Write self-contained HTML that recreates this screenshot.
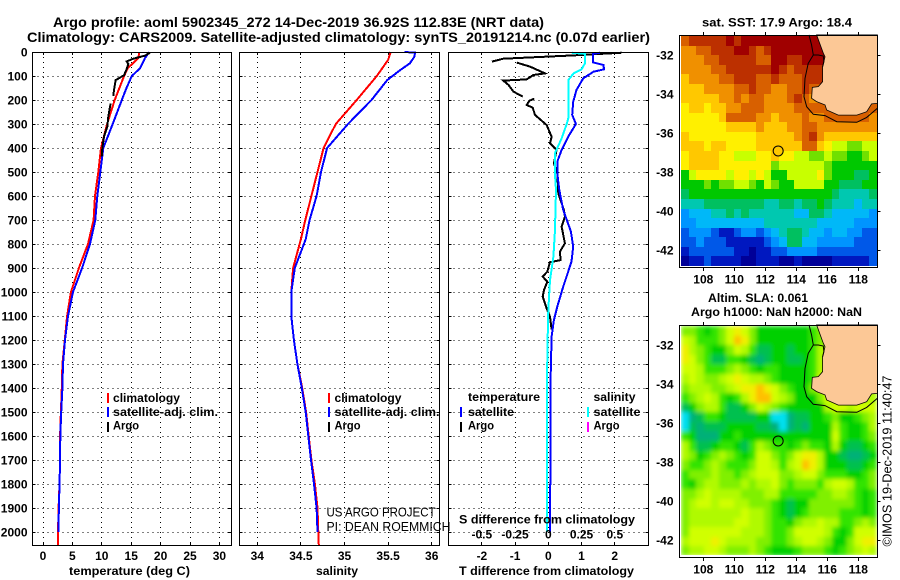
<!DOCTYPE html>
<html lang="en">
<head>
<meta charset="utf-8">
<title>Argo profile chart</title>
<style>
html,body{margin:0;padding:0;background:#fff;width:900px;height:580px;overflow:hidden}
svg{display:block}
text{font-family:"Liberation Sans",sans-serif;fill:#000}
.b{font-weight:700;font-size:12px}
.t{font-weight:700;font-size:14px}
.r{font-weight:400;font-size:13px}
</style>
</head>
<body>
<svg id="chart" xmlns="http://www.w3.org/2000/svg" width="900" height="580" viewBox="0 0 900 580">
  <defs>
    <filter id="smooth" filterUnits="userSpaceOnUse" x="681" y="326" width="196" height="229">
      <feGaussianBlur stdDeviation="2.2" edgeMode="duplicate"/>
    </filter>
  </defs>
  <rect width="900" height="580" fill="#fff"/>
  <text class="t" x="53" y="27" textLength="491" lengthAdjust="spacingAndGlyphs">Argo profile: aoml 5902345_272 14-Dec-2019 36.92S 112.83E (NRT data)</text>
  <text class="t" x="27" y="42" textLength="623" lengthAdjust="spacingAndGlyphs">Climatology: CARS2009. Satellite-adjusted climatology: synTS_20191214.nc (0.07d earlier)</text>

  <g id="maps"></g>
  <g id="panels"></g>

  <text class="b" x="69" y="575" textLength="121" lengthAdjust="spacingAndGlyphs">temperature (deg C)</text>
  <text class="b" x="316" y="575" textLength="42" lengthAdjust="spacingAndGlyphs">salinity</text>
  <text class="b" x="459" y="575" textLength="175" lengthAdjust="spacingAndGlyphs">T difference from climatology</text>
  <text class="b" x="459" y="523.5" textLength="176" lengthAdjust="spacingAndGlyphs">S difference from climatology</text>

  <g>
    <rect x="107" y="393" width="2" height="10" fill="#f00"/>
    <text class="b" x="113" y="402" textLength="67" lengthAdjust="spacingAndGlyphs">climatology</text>
    <rect x="107" y="407" width="2" height="10" fill="#00f"/>
    <text class="b" x="113" y="416" textLength="105" lengthAdjust="spacingAndGlyphs">satellite-adj. clim.</text>
    <rect x="107" y="422" width="2" height="10" fill="#000"/>
    <text class="b" x="113" y="429.5" textLength="26" lengthAdjust="spacingAndGlyphs">Argo</text>
  </g>
  <g>
    <rect x="328" y="393" width="2" height="10" fill="#f00"/>
    <text class="b" x="334.5" y="402" textLength="67" lengthAdjust="spacingAndGlyphs">climatology</text>
    <rect x="328" y="407" width="2" height="10" fill="#00f"/>
    <text class="b" x="334.5" y="416" textLength="105" lengthAdjust="spacingAndGlyphs">satellite-adj. clim.</text>
    <rect x="328" y="422" width="2" height="10" fill="#000"/>
    <text class="b" x="334.5" y="429.5" textLength="26" lengthAdjust="spacingAndGlyphs">Argo</text>
  </g>
  <g>
    <text class="b" x="468" y="401" textLength="72" lengthAdjust="spacingAndGlyphs">temperature</text>
    <rect x="460" y="407" width="2" height="10" fill="#00f"/>
    <text class="b" x="468" y="416" textLength="46" lengthAdjust="spacingAndGlyphs">satellite</text>
    <rect x="460" y="422" width="2" height="10" fill="#000"/>
    <text class="b" x="468" y="429.5" textLength="26" lengthAdjust="spacingAndGlyphs">Argo</text>
    <text class="b" x="593.5" y="401" textLength="42" lengthAdjust="spacingAndGlyphs">salinity</text>
    <rect x="587" y="407" width="2" height="10" fill="#0ff"/>
    <text class="b" x="593.5" y="416" textLength="47" lengthAdjust="spacingAndGlyphs">satellite</text>
    <rect x="587" y="422" width="2" height="10" fill="#f0f"/>
    <text class="b" x="593.5" y="429.5" textLength="26" lengthAdjust="spacingAndGlyphs">Argo</text>
  </g>

  <text class="r" x="326.5" y="516.5" textLength="109" lengthAdjust="spacingAndGlyphs">US ARGO PROJECT</text>
  <text class="r" x="326.5" y="531" textLength="124" lengthAdjust="spacingAndGlyphs">PI: DEAN ROEMMICH</text>

  <text class="b" x="702" y="26.5" textLength="150" lengthAdjust="spacingAndGlyphs">sat. SST: 17.9 Argo: 18.4</text>
  <text class="b" x="708" y="302" textLength="100" lengthAdjust="spacingAndGlyphs">Altim. SLA: 0.061</text>
  <text class="b" x="691" y="316" textLength="171" lengthAdjust="spacingAndGlyphs">Argo h1000: NaN h2000: NaN</text>
  <text class="r" transform="translate(891.5 546.5) rotate(-90)" textLength="171" lengthAdjust="spacingAndGlyphs">©IMOS 19-Dec-2019 11:40:47</text>
</svg>

<script>
// ---------- axis tick labels ----------
const depthTicks = [0,100,200,300,400,500,600,700,800,900,1000,1100,1200,1300,1400,1500,1600,1700,1800,1900,2000];
const tempTicks = [0,5,10,15,20,25,30];
const salinityTicks = [34,34.5,35,35.5,36];
const tDiffTicks = [-2,-1,0,1,2];
const sDiffTickValues = [-0.5,-0.25,0,0.25,0.5];
const sDiffTickLabels = ["-0.5","-0.25","0","0.25","0.5"];
const lonTicks = [108,110,112,114,116,118];
const latTicks = [-32,-34,-36,-38,-40,-42];

// ---------- temperature profiles (deg C vs depth in dbar) ----------
const climTempDepth = [0,25,68,100,200,300,400,500,600,700,800,900,1000,1100,1200,1300,1400,1500,1600,1700,1800,1900,2000,2054];
const climTempValue = [16.4,16.2,14.4,13.8,12.2,10.9,9.86,9.4,8.85,8.6,7.65,6.1,4.75,4.1,3.7,3.3,3.2,3.05,2.9,2.9,2.8,2.65,2.55,2.55];
const satTempDepth = [0,25,68,100,150,200,300,400,500,600,700,800,900,1000,1100,1200,1300,1400,1500,1600,1700,1800,1900,2000];
const satTempValue = [18.1,17.35,16.5,15.1,14.2,13.4,11.85,10.26,9.75,9.24,8.9,8.0,6.65,5.1,4.25,3.75,3.4,3.3,3.1,2.95,2.9,2.8,2.7,2.6];
const argoTempDepth = [3,15,28,39,50,71,97,117,158,183,null,214,269,311,353,401,436];
const argoTempValue = [18.2,17.35,15.36,14.23,14.5,14.23,13.78,12.36,12.07,11.96,null,11.5,11.1,10.94,10.37,10.09,9.98];

// ---------- salinity profiles ----------
const climSalDepth = [0,33,100,200,300,400,500,600,700,780,900,1000,1100,1200,1300,1400,1500,1600,1700,1800,1900,2000,2054];
const climSalValue = [35.53,35.5,35.37,35.14,34.9,34.76,34.69,34.62,34.55,34.5,34.41,34.39,34.39,34.42,34.46,34.515,34.56,34.59,34.62,34.66,34.69,34.7,34.705];
const satSalDepth = [0,3,20,47,75,117,200,300,400,500,600,700,780,900,1000,1100,1200,1300,1400,1500,1600,1700,1800,1900,2000];
const satSalValue = [35.69,35.81,35.8,35.75,35.64,35.49,35.31,35.04,34.8,34.73,34.68,34.6,34.555,34.43,34.39,34.39,34.42,34.46,34.51,34.555,34.585,34.616,34.65,34.68,34.69];

// ---------- difference profiles ----------
const argoDiffDepth = [3,14,28,40,null,44,61,89,96,114,119,137,165,186,null,194,203,221,232,262,304,353,381,408,464,506,589,658,686,728,748,797,832,867,876,915,936,957,992,1019,1068,1103,1156];
const argoDiffValue = [2.21,0.75,-1.355,-1.7,null,-0.95,-0.55,-0.1,-0.45,-0.65,-1.355,-1.2,-1.05,-0.77,null,-0.42,-0.57,-0.65,-0.47,-0.4,-0.05,0.1,0.05,0.25,0.17,0.27,0.3,0.47,0.5,0.4,0.43,0.5,0.35,0.37,0.05,-0.03,-0.17,-0.03,-0.13,-0.17,-0.05,0.05,0.1];
const satDiffDepth = [3,8,43,54,72,82,110,158,207,262,300,353,408,457,506,575,658,748,811,873,915,978,1061,1117,1186,1360,1550,2000];
const satDiffValue = [1.56,1.34,1.34,1.66,1.68,1.36,1.05,0.85,0.75,0.72,0.83,0.6,0.4,0.27,0.27,0.33,0.45,0.68,0.75,0.7,0.6,0.45,0.27,0.17,0.1,0.07,0.07,0.05];
const salDiffDepth = [3,8,47,72,89,117,200,276,300,360,422,506,575,748,853,950,1075,1200,1360,2000];
const salDiffValue = [0.176,0.276,0.276,0.25,0.19,0.15,0.15,0.15,0.138,0.1,0.05,0.05,0.058,0.05,0.038,0.013,0,-0.005,-0.01,-0.008];

// ---------- map data: colour-scale steps, north to south, west to east ----------
const sstGrid = [
[13,14,14,14,14,14,15,14,15,15,15,15,15,15,15,15,15,15,15,15,15,15,15,15,15,15],
[12,12,13,13,14,14,14,15,15,14,13,14,15,15,15,15,15,15,15,15,15,15,15,15,15,15],
[12,12,12,13,13,14,14,14,14,14,13,13,15,15,14,14,15,15,15,15,15,15,15,15,15,15],
[12,12,12,12,13,13,14,14,14,14,14,14,15,14,13,14,14,14,14,14,14,14,14,14,14,14],
[11,12,12,12,12,13,13,14,14,14,13,13,14,13,13,13,14,14,14,14,14,14,14,14,14,14],
[11,11,11,12,12,12,12,13,13,14,13,13,12,12,13,13,14,13,13,13,13,13,13,13,13,13],
[11,11,11,11,11,12,12,13,12,13,13,12,12,12,13,14,13,12,12,13,13,13,13,13,13,13],
[10,11,11,10,11,11,12,12,13,13,13,12,12,12,12,13,13,13,13,13,13,13,13,13,13,13],
[10,10,10,10,10,11,13,13,13,13,12,12,11,12,12,12,13,12,12,13,13,13,13,13,13,12],
[10,10,10,10,10,10,11,11,11,11,12,11,11,11,12,12,13,13,12,12,12,12,12,12,12,12],
[11,10,10,10,10,10,10,10,10,10,11,11,11,11,11,12,13,14,12,11,11,11,11,11,11,11],
[11,11,11,10,11,11,10,10,10,10,11,11,11,11,11,11,13,13,11,10,9,9,8,8,9,9],
[10,11,11,11,11,10,10,9,9,9,10,10,11,10,10,9,9,8,8,9,8,8,7,7,8,9],
[10,11,11,11,11,10,10,10,10,10,10,10,8,9,9,9,9,9,9,8,7,7,7,7,7,7],
[7,9,10,10,10,10,9,10,10,9,10,9,7,7,9,9,9,9,10,8,7,7,7,6,6,7],
[7,7,7,8,7,8,8,9,9,8,7,9,8,7,7,9,9,9,9,7,7,6,6,6,7,7],
[6,7,7,7,7,7,7,7,7,7,7,7,7,7,7,7,7,7,7,7,6,5,5,5,5,6],
[5,5,5,6,6,6,6,6,6,6,6,5,5,6,6,5,6,6,7,6,5,5,5,4,5,5],
[3,4,4,4,5,5,6,5,6,5,5,5,5,5,5,4,4,6,6,5,4,4,4,4,4,3],
[3,3,4,4,4,4,4,4,4,4,4,5,5,5,5,5,5,5,4,4,4,4,4,3,3,3],
[2,3,3,3,2,1,1,2,3,3,2,3,4,5,6,6,5,4,4,3,4,4,3,3,2,2],
[2,2,3,2,2,2,1,1,1,1,1,2,3,4,6,6,4,4,3,3,3,3,3,2,2,2],
[1,2,2,2,2,2,2,1,1,0,1,1,2,2,3,3,3,3,2,2,2,2,2,2,2,2],
[0,1,1,2,1,1,1,1,0,0,1,1,1,0,0,1,0,0,0,0,1,1,1,1,1,2]
];
const slaGrid = [
[5,5,4,3,4,5,7,8,7,5,3,3,3,3,3,3,3,4,5,5,5,5,5,5,5,5],
[7,6,4,4,4,5,7,9,8,5,3,3,3,3,3,3,3,4,5,5,5,5,5,5,5,5],
[8,6,5,4,3,3,5,7,6,4,2,2,3,3,2,3,3,4,6,6,6,6,6,6,6,6],
[8,7,5,4,2,2,4,4,3,2,1,2,3,3,2,2,3,4,6,6,6,6,6,6,6,6],
[7,7,6,4,4,4,5,6,5,4,3,4,4,3,3,3,3,4,6,6,6,6,6,6,6,6],
[6,7,6,5,5,6,7,8,7,6,6,5,4,3,3,3,3,4,7,7,6,6,6,6,6,6],
[5,6,6,6,5,5,6,7,8,8,9,8,7,5,4,3,3,5,6,7,6,6,6,6,6,6],
[4,5,6,7,6,4,3,4,6,8,9,9,7,6,5,3,3,3,5,7,7,6,6,6,6,6],
[2,3,5,6,6,4,2,2,3,5,7,6,5,4,3,3,3,3,3,6,7,7,6,7,7,7],
[0,1,2,4,4,3,2,2,2,2,3,3,0,0,1,2,2,3,3,4,5,3,3,4,5,6],
[0,2,1,2,2,2,3,3,3,3,2,2,1,0,1,2,1,3,3,3,6,4,3,3,4,6],
[4,3,1,1,1,3,3,4,3,3,3,3,3,3,3,3,3,3,3,3,7,4,3,3,4,5],
[6,4,2,2,3,4,4,3,2,4,6,5,4,4,3,4,5,4,4,3,6,3,2,2,3,4],
[6,5,3,4,5,6,5,4,3,4,7,7,5,4,5,7,8,8,6,3,3,2,1,1,2,3],
[5,4,4,5,6,5,4,4,4,5,7,7,6,4,6,7,9,8,6,3,3,3,2,2,3,4],
[4,5,5,5,6,5,5,4,5,6,7,7,7,5,5,6,7,7,5,4,4,4,3,3,4,5],
[4,3,5,6,6,5,5,5,6,5,6,6,7,5,4,5,5,5,4,6,7,7,6,4,4,5],
[5,5,6,7,6,6,6,6,5,5,5,6,6,4,4,4,4,4,5,5,6,6,5,4,3,4],
[5,6,7,7,6,7,7,6,6,5,5,5,4,3,2,3,3,5,5,5,5,5,5,4,3,4],
[5,6,6,6,6,6,6,6,7,6,6,5,4,3,2,3,4,5,5,5,5,4,4,4,3,4],
[5,6,6,6,6,6,6,7,7,6,6,5,4,4,3,5,6,6,7,6,6,4,4,5,6,5],
[5,7,7,7,7,7,7,7,6,6,6,5,4,4,5,7,7,7,7,6,4,3,4,7,7,7],
[6,7,7,7,8,7,6,6,6,6,5,5,4,4,5,6,7,7,6,5,3,3,5,7,8,8],
[5,6,6,7,7,6,5,5,5,6,5,4,3,3,3,4,5,5,5,4,3,4,5,6,7,6]
];
const landLon = [115.31,115.74,115.85,115.70,115.70,115.42,115.03,114.99,115.31,115.85,115.96,116.71,117.90,118.54,118.86,119.23,119.23];
const landLat = [-30.97,-31.91,-32.09,-32.6,-33.37,-33.62,-33.66,-34.22,-34.39,-34.56,-34.82,-35.08,-35.08,-34.91,-34.51,-34.48,-30.97];
const shelfLon = [114.82,114.99,115.1,114.77,114.56,114.5,114.67,115.1,115.85,116.61,117.9,118.54,119.23];
const shelfLat = [-30.97,-31.49,-32,-32.43,-33.2,-34.14,-34.65,-35.04,-35.11,-35.42,-35.45,-35.2,-34.73];
const coastSpurLon = [115.1,115.42,115.74,115.78,115.7];
const coastSpurLat = [-32,-32,-32.05,-32.35,-32.6];
const floatLon = 112.83;
const floatLat = -36.92;

// ---------- styling (not data) ----------
const sstPalette = ["#000098","#0018c0","#0058e8","#0094ff","#00b8f8","#00c8b0","#00c060","#00c800","#70e000","#c8ff00","#fff000","#ffc800","#f09000","#d86000","#bc3000","#a00000"];
const slaPalette = ["#00e0f0","#00b078","#00c050","#00d000","#30e400","#80f000","#b0fa00","#d0ff00","#f0f000","#ffc000"];

// ---------- axis functions ----------
const depthY = d => 52 + 0.24 * d;
const tempX = v => 43 + 5.88 * v;
const salX = v => 257.3 + 87.2 * (v - 34);
const tDiffX = v => 548.3 + 33.2 * v;
const sDiffX = v => 548.3 + 133 * v;
const lonX = v => 703.3 + 15.5 * (v - 108);
const latY = (v, top) => top + 20 + 19.5 * (-32 - v);

const NS = "http://www.w3.org/2000/svg";
const panelsRoot = document.getElementById("panels");
const mapsRoot = document.getElementById("maps");

function make(tag, attrs, parent) {
  const node = document.createElementNS(NS, tag);
  for (const k in attrs) node.setAttribute(k, attrs[k]);
  parent.appendChild(node);
  return node;
}

function tracePath(xs, ys, xf, yf) {
  let d = "", pen = false;
  for (let i = 0; i < xs.length; i++) {
    if (xs[i] === null || ys[i] === null) { pen = false; continue; }
    d += (pen ? "L" : "M") + xf(xs[i]).toFixed(1) + " " + yf(ys[i]).toFixed(1);
    pen = true;
  }
  return d;
}

function drawSeries(parent, values, depths, xf, colour, name, width) {
  const p = make("path", {d: tracePath(values, depths, xf, depthY), fill: "none", stroke: colour, "stroke-width": width, "stroke-linejoin": "miter", "shape-rendering": "crispEdges"}, parent);
  
  
}

function drawPanel(name, left, right, xTicks, xf, labels) {
  const top = 52, bottom = 545;
  const g = make("g", {}, panelsRoot);
  
  
  for (const d of depthTicks) {
    const y = Math.floor(depthY(d)) + 0.5;
    if (d > 0) {
      const h = make("line", {x1: left, x2: right, y1: y, y2: y, stroke: "#000", "stroke-width": 1, "stroke-dasharray": "1 4", "shape-rendering": "crispEdges"}, g);
      
      
      const a = make("path", {d: "M" + left + " " + y + "h3M" + right + " " + y + "h-3", stroke: "#000", "stroke-width": 1, "shape-rendering": "crispEdges"}, g);
      
      
    }
  }
  xTicks.forEach((v, i) => {
    const x = Math.floor(xf(v)) + 0.5;
    const l = make("line", {x1: x, x2: x, y1: top, y2: bottom, stroke: "#000", "stroke-width": 1, "stroke-dasharray": "1 4", "shape-rendering": "crispEdges"}, g);
    
    
    const a = make("path", {d: "M" + x + " " + top + "v3M" + x + " " + bottom + "v-3", stroke: "#000", "stroke-width": 1, "shape-rendering": "crispEdges"}, g);
    
    
    const t = make("text", {class: "b", x: xf(v), y: 560, "text-anchor": "middle"}, g);
    
    
    t.textContent = labels ? labels[i] : String(v);
  });
  return g;
}

function drawFrame(parent, left, top, right, bottom) {
  const r = make("rect", {x: left, y: top, width: right - left, height: bottom - top, fill: "none", stroke: "#000", "stroke-width": 1, "shape-rendering": "crispEdges"}, parent);
  
  
}

// ---------- temperature panel ----------
const tempPanel = drawPanel("temperature-panel", 32.5, 231.5, tempTicks, tempX);
drawSeries(tempPanel, climTempValue, climTempDepth, tempX, "#f00", "climatology-temperature-line", 2);
drawSeries(tempPanel, satTempValue, satTempDepth, tempX, "#00f", "satellite-temperature-line", 2);
drawSeries(tempPanel, argoTempValue, argoTempDepth, tempX, "#000", "argo-temperature-line", 2);
drawFrame(tempPanel, 32.5, 52.5, 231.5, 545.5);
for (const d of depthTicks) {
  const t = make("text", {class: "b", x: 27.5, y: depthY(d) + 4.5, "text-anchor": "end"}, tempPanel);
  
  
  t.textContent = String(d);
}

// ---------- salinity panel ----------
const salPanel = drawPanel("salinity-panel", 239.5, 439.5, salinityTicks, salX);
drawSeries(salPanel, climSalValue, climSalDepth, salX, "#f00", "climatology-salinity-line", 2);
drawSeries(salPanel, satSalValue, satSalDepth, salX, "#00f", "satellite-salinity-line", 2);
drawFrame(salPanel, 239.5, 52.5, 439.5, 545.5);

// ---------- difference panel ----------
const diffPanel = drawPanel("difference-panel", 448.5, 648.5, tDiffTicks, tDiffX);
drawSeries(diffPanel, argoDiffValue, argoDiffDepth, tDiffX, "#000", "argo-temperature-difference-line", 2);
drawSeries(diffPanel, satDiffValue, satDiffDepth, tDiffX, "#00f", "satellite-temperature-difference-line", 2);
drawSeries(diffPanel, salDiffValue, salDiffDepth, sDiffX, "#0ff", "satellite-salinity-difference-line", 2);
drawFrame(diffPanel, 448.5, 52.5, 648.5, 545.5);
sDiffTickValues.forEach((v, i) => {
  const t = make("text", {class: "b", x: sDiffX(v), y: 538.5, "text-anchor": "middle"}, diffPanel);
  
  
  t.textContent = sDiffTickLabels[i];
});

// ---------- maps ----------
function drawMap(name, top, grid, palette, smooth, circleFill) {
  const left = 679.5, right = 877.5, bottom = top + 232;
  const g = make("g", {}, mapsRoot);
  
  
  const rows = grid.length, cols = grid[0].length;
  const cellW = 196 / cols, cellH = 230 / rows;
  const holder = make("g", smooth ? {filter: "url(#smooth)"} : {}, g);
  
  
  for (let r = 0; r < rows; r++) {
    for (let c = 0; c < cols; c++) {
      const x0 = Math.round(681 + c * cellW), x1 = Math.round(681 + (c + 1) * cellW);
      const y0 = Math.round(top + 1 + r * cellH), y1 = Math.round(top + 1 + (r + 1) * cellH);
      const cell = make("rect", {x: x0, y: y0, width: x1 - x0, height: y1 - y0, fill: palette[grid[r][c]], "shape-rendering": "crispEdges"}, holder);
      
      
    }
  }
  const toPoints = (lons, lats) => lons.map((v, i) => lonX(v).toFixed(1) + "," + latY(lats[i], top).toFixed(1)).join(" ");
  const land = make("polygon", {points: toPoints(landLon, landLat), fill: "#fcc896", stroke: "#000", "stroke-width": 0.8}, g);
  
  
  const shelf = make("polyline", {points: toPoints(shelfLon, shelfLat), fill: "none", stroke: "#000", "stroke-width": 1}, g);
  
  
  const spur = make("polyline", {points: toPoints(coastSpurLon, coastSpurLat), fill: "none", stroke: "#000", "stroke-width": 1}, g);
  
  
  const dot = make("circle", {cx: lonX(floatLon), cy: latY(floatLat, top), r: 5, fill: circleFill, stroke: "#000", "stroke-width": 1}, g);
  
  
  drawFrame(g, left, top + 0.5, right, bottom + 0.5);
  for (const v of lonTicks) {
    const x = Math.floor(lonX(v)) + 0.5;
    const a = make("path", {d: "M" + x + " " + top + "v-3M" + x + " " + (bottom + 1) + "v3", stroke: "#000", "stroke-width": 1, "shape-rendering": "crispEdges"}, g);
    
    
    const t = make("text", {class: "b", x: lonX(v), y: bottom + 16.5, "text-anchor": "middle"}, g);
    
    
    t.textContent = String(v);
  }
  for (const v of latTicks) {
    const y = Math.floor(latY(v, top)) + 0.5;
    const a = make("path", {d: "M" + right + " " + y + "h3", stroke: "#000", "stroke-width": 1, "shape-rendering": "crispEdges"}, g);
    
    
    const t = make("text", {class: "b", x: 673.5, y: latY(v, top) + 4.5, "text-anchor": "end"}, g);
    
    
    t.textContent = String(v);
  }
}
drawMap("sst-map", 35, sstGrid, sstPalette, false, "#ffc800");
drawMap("sla-map", 325, slaGrid, slaPalette, true, "none");
</script>
</body>
</html>
